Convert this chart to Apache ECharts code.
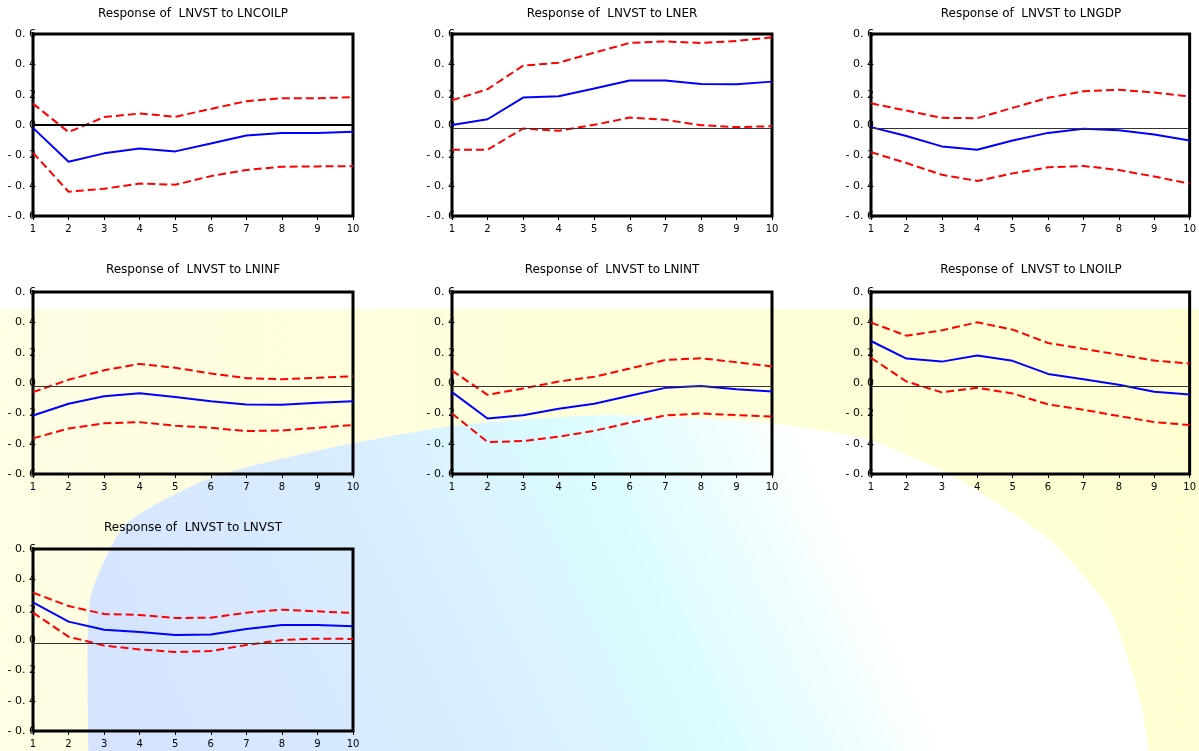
<!DOCTYPE html>
<html>
<head>
<meta charset="utf-8">
<script src="https://cdn.jsdelivr.net/npm/echarts@6/dist/echarts.min.js"></script>
<style>
  html, body { margin: 0; padding: 0; background: #ffffff; }
  #chart { width: 1199px; height: 751px; }
</style>
</head>
<body>
<div id="chart"></div>
<script>
// ---- data ----
const periods = ['1', '2', '3', '4', '5', '6', '7', '8', '9', '10'];
const yTickLabels = ['- 0. 6', '- 0. 4', '- 0. 2', '0. 0', '0. 2', '0. 4', '0. 6'];
const panelTitles = [
  'Response of  LNVST to LNCOILP',
  'Response of  LNVST to LNER',
  'Response of  LNVST to LNGDP',
  'Response of  LNVST to LNINF',
  'Response of  LNVST to LNINT',
  'Response of  LNVST to LNOILP',
  'Response of  LNVST to LNVST'
];
// impulse responses (blue) and +/- 2 S.E. bands (red dashed)
const respCOILP  = [-0.019, -0.242, -0.187, -0.155, -0.174, -0.122, -0.069, -0.052, -0.052, -0.045];
const upCOILP    = [0.141, -0.047, 0.052, 0.076, 0.054, 0.106, 0.157, 0.177, 0.177, 0.183];
const loCOILP    = [-0.183, -0.44, -0.42, -0.386, -0.394, -0.337, -0.297, -0.275, -0.273, -0.271];

const respER     = [0.0, 0.038, 0.181, 0.19, 0.24, 0.293, 0.293, 0.271, 0.269, 0.286];
const upER       = [0.163, 0.236, 0.391, 0.411, 0.477, 0.541, 0.551, 0.541, 0.554, 0.578];
const loER       = [-0.163, -0.163, -0.023, -0.038, 0.001, 0.049, 0.034, -0.001, -0.014, -0.008];

const respGDP    = [-0.014, -0.073, -0.141, -0.163, -0.102, -0.052, -0.025, -0.034, -0.063, -0.102];
const upGDP      = [0.143, 0.095, 0.047, 0.045, 0.113, 0.179, 0.223, 0.232, 0.214, 0.188];
const loGDP      = [-0.179, -0.251, -0.328, -0.369, -0.319, -0.279, -0.27, -0.297, -0.34, -0.387];

const respINF    = [-0.214, -0.137, -0.087, -0.067, -0.093, -0.12, -0.141, -0.144, -0.13, -0.12];
const upINF      = [-0.06, 0.021, 0.084, 0.126, 0.1, 0.063, 0.032, 0.025, 0.034, 0.045];
const loINF      = [-0.365, -0.3, -0.266, -0.258, -0.282, -0.295, -0.317, -0.313, -0.295, -0.277];

const respINT    = [-0.06, -0.234, -0.212, -0.17, -0.137, -0.084, -0.032, -0.019, -0.041, -0.056];
const upINT      = [0.082, -0.078, -0.036, 0.01, 0.041, 0.095, 0.152, 0.163, 0.137, 0.109];
const loINT      = [-0.201, -0.389, -0.383, -0.354, -0.315, -0.262, -0.214, -0.201, -0.212, -0.221];

const respOILP   = [0.277, 0.161, 0.141, 0.181, 0.146, 0.06, 0.025, -0.012, -0.058, -0.076];
const upOILP     = [0.398, 0.312, 0.347, 0.4, 0.352, 0.264, 0.225, 0.187, 0.148, 0.128];
const loOILP     = [0.166, 0.01, -0.062, -0.032, -0.069, -0.141, -0.176, -0.218, -0.258, -0.277];

const respVST    = [0.248, 0.121, 0.068, 0.053, 0.033, 0.037, 0.073, 0.099, 0.099, 0.09];
const upVST      = [0.312, 0.224, 0.171, 0.165, 0.145, 0.147, 0.18, 0.2, 0.189, 0.178];
const loVST      = [0.18, 0.022, -0.037, -0.062, -0.079, -0.073, -0.033, 0.0, 0.009, 0.007];

const responses = [respCOILP, respER, respGDP, respINF, respINT, respOILP, respVST];
const uppers    = [upCOILP, upER, upGDP, upINF, upINT, upOILP, upVST];
const lowers    = [loCOILP, loER, loGDP, loINF, loINT, loOILP, loVST];
const refLines  = [0, -0.022, -0.022, -0.022, -0.022, -0.022, -0.022];

// ---- layout ----
const colLeft = [33, 452, 871];
const rowTop = [34, 292, 549];
const titleTop = [8, 264, 522];
const PW = 320, PH = 182;
const FONT = 'DejaVu Sans';

const grids = [], xAxes = [], yAxes = [], series = [], titles = [];
for (let i = 0; i < 7; i++) {
  const c = i % 3, r = Math.floor(i / 3);
  grids.push({
    left: colLeft[c], top: rowTop[r], width: PW, height: PH,
    show: true, borderColor: '#000', borderWidth: 3, backgroundColor: 'transparent',
    containLabel: false
  });
  titles.push({
    text: panelTitles[i], left: colLeft[c] + PW / 2, top: titleTop[r], textAlign: 'center', padding: 0,
    textStyle: { fontFamily: FONT, fontSize: 12, fontWeight: 'normal', color: '#000' }
  });
  xAxes.push({
    type: 'category', gridIndex: i, data: periods, boundaryGap: false, position: 'bottom',
    axisLine: { show: false, onZero: false },
    axisTick: { show: true, alignWithLabel: true, length: 4, lineStyle: { color: '#000' } },
    axisLabel: { margin: 8, fontFamily: FONT, fontSize: 10, color: '#000' },
    splitLine: { show: false }
  });
  yAxes.push({
    type: 'value', gridIndex: i, min: -0.6, max: 0.6, interval: 0.2,
    axisLine: { show: false, onZero: false }, axisTick: { show: false }, splitLine: { show: false },
    axisLabel: {
      margin: -3, fontFamily: FONT, fontSize: 11, color: '#000',
      formatter: v => yTickLabels[Math.round((v + 0.6) / 0.2)]
    }
  });
  series.push({
    type: 'line', xAxisIndex: i, yAxisIndex: i, data: uppers[i], symbol: 'none',
    lineStyle: { color: '#ff0000', width: 2, type: [8, 4] }, z: 3
  });
  series.push({
    type: 'line', xAxisIndex: i, yAxisIndex: i, data: lowers[i], symbol: 'none',
    lineStyle: { color: '#ff0000', width: 2, type: [8, 4] }, z: 3
  });
  series.push({
    type: 'line', xAxisIndex: i, yAxisIndex: i, data: responses[i], symbol: 'none',
    lineStyle: { color: '#0000ff', width: 2 }, z: 4,
    markLine: {
      silent: true, symbol: 'none', label: { show: false },
      lineStyle: { color: i === 0 ? '#000' : '#333', width: i === 0 ? 2 : 1, type: 'solid' },
      data: [{ yAxis: refLines[i] }]
    }
  });
}

const chart = echarts.init(document.getElementById('chart'), null, { renderer: 'canvas' });
chart.setOption({
  animation: false,
  backgroundColor: '#ffffff',
  graphic: [
    { type: 'rect', z: -20, silent: true, shape: { x: 0, y: 309, width: 1199, height: 442 },
      style: { fill: {
        type: 'linear', x: 0, y: 0, x2: 1, y2: 0,
        colorStops: [{ offset: 0, color: '#fffde2' }, { offset: 1, color: '#ffffd2' }]
      } } },
    { type: 'polygon', z: -19, silent: true,
      shape: { smooth: 0.2, points: [[80, 900], [88, 760], [90, 600], [125, 525], [210, 478], [330, 448], [460, 425], [610, 415],
        [760, 422], [870, 440], [960, 480], [1050, 540], [1110, 610], [1140, 700], [1150, 760], [1160, 900]] },
      style: { fill: {
        type: 'linear', x: 0, y: 1, x2: 1, y2: 0,
        colorStops: [
          { offset: 0, color: '#d4e0ff' },
          { offset: 0.35, color: '#d8ecff' },
          { offset: 0.55, color: '#dbfcff' },
          { offset: 0.72, color: '#ffffff' },
          { offset: 1, color: '#ffffff' }
        ]
      } } }
  ],
  title: titles,
  grid: grids,
  xAxis: xAxes,
  yAxis: yAxes,
  series: series
});
</script>
</body>
</html>
